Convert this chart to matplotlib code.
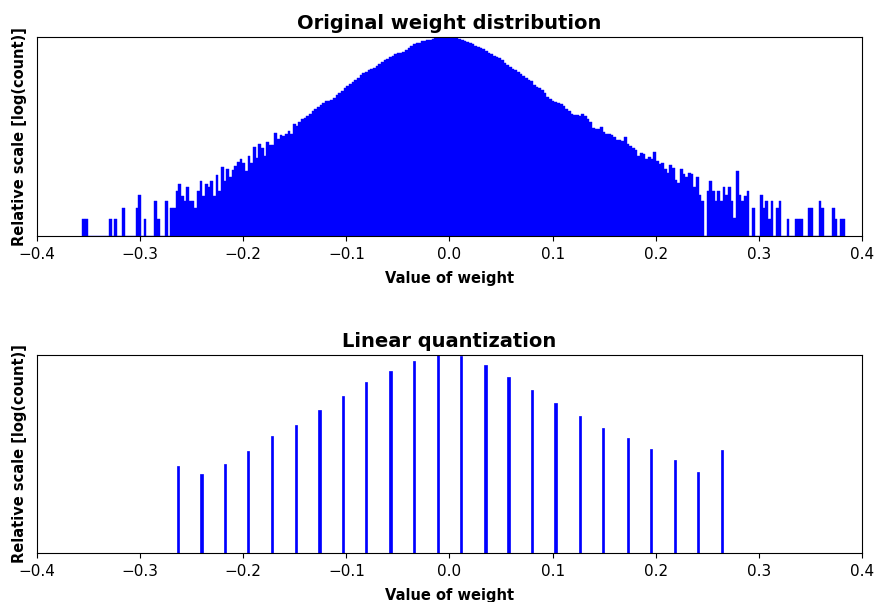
import numpy as np
import matplotlib
matplotlib.use('Agg')
import matplotlib.pyplot as plt

# histogram of the original weights, bins from -0.3561 to 0.3838
hist_start = -0.3561
hist_end = 0.3838
# relative log(count) height of every bin
hist_heights = [
    17, 17, 0, 0, 0, 0, 0, 0, 0, 0, 17, 0, 17, 0, 0, 28, 0, 0, 0, 0,
    28, 41, 0, 17, 0, 0, 0, 35, 17, 0, 0, 35, 0, 28, 28, 45, 52, 40, 35, 49,
    35, 35, 28, 45, 55, 40, 52, 49, 55, 40, 61, 45, 69, 55, 67, 59, 66, 70, 74, 77,
    73, 65, 80, 73, 89, 78, 92, 88, 80, 94, 91, 91, 103, 97, 101, 100, 102, 105, 102, 112,
    110, 114, 117, 118, 120, 122, 125, 127, 129, 131, 133, 135, 135, 136, 138, 141, 143, 145, 148, 150,
    152, 154, 156, 158, 161, 163, 164, 166, 167, 168, 170, 172, 174, 176, 177, 179, 180, 182, 183, 183,
    184, 186, 188, 190, 192, 193, 193, 195, 195, 196, 196, 197, 198, 199, 199, 199, 199, 199, 199, 199,
    198, 197, 196, 195, 194, 193, 192, 190, 189, 188, 187, 185, 183, 182, 180, 179, 178, 176, 173, 171,
    169, 167, 166, 164, 162, 160, 158, 156, 155, 151, 149, 148, 146, 143, 139, 137, 135, 134, 133, 132,
    130, 127, 125, 122, 121, 121, 120, 122, 120, 117, 114, 108, 107, 107, 109, 104, 102, 102, 101, 99,
    96, 96, 95, 99, 92, 90, 88, 86, 80, 83, 82, 77, 79, 77, 84, 75, 72,
    73, 67, 63, 71, 68, 56, 53, 67, 62, 59, 63, 62, 49, 59, 41, 35, 0, 45, 55, 45,
    35, 45, 35, 49, 41, 49, 35, 18, 65, 41, 35, 40, 45, 0, 28, 0, 0, 41, 28, 35,
    17, 35, 0, 28, 35, 0, 0, 17, 0, 0, 17, 17, 17, 0, 0, 28, 28, 0, 0, 35,
    28, 0, 0, 0, 28, 17, 0, 17, 17,
]

# linear quantization levels and their relative log(count)
q_levels = [-0.2633, -0.2404, -0.2177, -0.1951, -0.1721, -0.1488, -0.1260, -0.1033,
            -0.0807, -0.0571, -0.0341, -0.0115, 0.0114, 0.0350, 0.0573, 0.0803,
            0.1029, 0.1265, 0.1491, 0.1731, 0.1957, 0.2183, 0.2413, 0.2639]
q_heights = [86.7, 78.3, 88.7, 101.7, 116.7, 128, 142.3, 156.3,
             170.3, 181.7, 192, 197.7, 196.5, 187.7, 176, 162.7,
             149.7, 136.7, 124.3, 115, 103.7, 92.3, 81, 102.7]

xticks = [-0.4, -0.3, -0.2, -0.1, 0.0, 0.1, 0.2, 0.3, 0.4]

edges = np.linspace(hist_start, hist_end, len(hist_heights) + 1)
bin_w = edges[1] - edges[0]

fig = plt.figure(figsize=(8.74, 6.02), dpi=100)
ax1 = fig.add_axes([0.0423, 0.608, 0.9440, 0.3305])
ax2 = fig.add_axes([0.0423, 0.0819, 0.9440, 0.3284])

ax1.bar(edges[:-1], hist_heights, width=bin_w, align='edge', color='#0000ff',
        edgecolor='#0000ff', linewidth=0.3)
ax2.bar(q_levels, q_heights, width=0.0022, color='#0000ff',
        edgecolor='#0000ff', linewidth=0.5)

for ax, title, ymax in [(ax1, 'Original weight distribution', max(hist_heights)),
                        (ax2, 'Linear quantization', max(q_heights))]:
    ax.set_xlim(-0.4, 0.4)
    ax.set_ylim(0, ymax)
    ax.set_yticks([])
    ax.set_xticks(xticks)
    ax.tick_params(axis='x', labelsize=11, pad=4.5)
    ax.set_title(title, fontsize=14, fontweight='bold')
    ax.set_xlabel('Value of weight', fontsize=10.5, fontweight='bold', labelpad=6.5)
    ax.set_ylabel('Relative scale [log(count)]', fontsize=10.5, fontweight='bold', labelpad=7)

fig.savefig('out.png', dpi=100)
